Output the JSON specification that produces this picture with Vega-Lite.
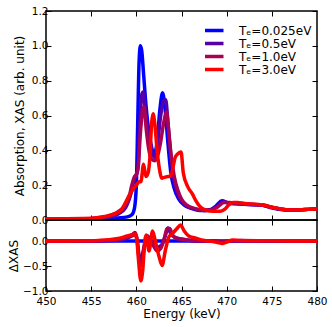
{
  "$schema": "https://vega.github.io/schema/vega-lite/v6.json",
  "padding": {"left": 6, "top": 5, "right": 10, "bottom": 3},
  "spacing": 0,
  "bounds": "flush",
  "config": {
    "font": "DejaVu Sans",
    "view": {"stroke": "#000", "strokeWidth": 1.5},
    "axis": {
      "domain": false, "grid": false, "labelFlush": false,
      "tickSize": -5, "tickColor": "#000", "tickWidth": 1,
      "labelPadding": 3, "labelFontSize": 10.5, "labelColor": "#000",
      "titleFontSize": 12, "titleFontWeight": "normal", "titleColor": "#000"
    },
    "legend": {
      "orient": "none", "legendX": 159, "legendY": 13,
      "symbolType": "M-2,0H2", "symbolStrokeWidth": 3.5, "symbolSize": 121,
      "labelFontSize": 12, "labelColor": "#000", "labelOffset": 19,
      "rowPadding": 0, "clipHeight": 13, "padding": 0, "title": null
    }
  },
  "datasets": {
    "top": [
      {"s": "Tₑ=0.025eV", "E": 450, "v": 0.005}, {"s": "Tₑ=0.025eV", "E": 453, "v": 0.005}, {"s": "Tₑ=0.025eV", "E": 455, "v": 0.006}, {"s": "Tₑ=0.025eV", "E": 456, "v": 0.007}, {"s": "Tₑ=0.025eV", "E": 457, "v": 0.009}, {"s": "Tₑ=0.025eV", "E": 458, "v": 0.012}, {"s": "Tₑ=0.025eV", "E": 459, "v": 0.018}, {"s": "Tₑ=0.025eV", "E": 459.5, "v": 0.03}, {"s": "Tₑ=0.025eV", "E": 459.8, "v": 0.07}, {"s": "Tₑ=0.025eV", "E": 460.0, "v": 0.2}, {"s": "Tₑ=0.025eV", "E": 460.15, "v": 0.55}, {"s": "Tₑ=0.025eV", "E": 460.3, "v": 0.9}, {"s": "Tₑ=0.025eV", "E": 460.45, "v": 1.0}, {"s": "Tₑ=0.025eV", "E": 460.6, "v": 0.97}, {"s": "Tₑ=0.025eV", "E": 460.8, "v": 0.84}, {"s": "Tₑ=0.025eV", "E": 461.1, "v": 0.64}, {"s": "Tₑ=0.025eV", "E": 461.5, "v": 0.47}, {"s": "Tₑ=0.025eV", "E": 462.0, "v": 0.38}, {"s": "Tₑ=0.025eV", "E": 462.3, "v": 0.45}, {"s": "Tₑ=0.025eV", "E": 462.6, "v": 0.63}, {"s": "Tₑ=0.025eV", "E": 462.9, "v": 0.73}, {"s": "Tₑ=0.025eV", "E": 463.2, "v": 0.63}, {"s": "Tₑ=0.025eV", "E": 463.5, "v": 0.44}, {"s": "Tₑ=0.025eV", "E": 463.8, "v": 0.28}, {"s": "Tₑ=0.025eV", "E": 464.2, "v": 0.18}, {"s": "Tₑ=0.025eV", "E": 464.7, "v": 0.12}, {"s": "Tₑ=0.025eV", "E": 465.3, "v": 0.085}, {"s": "Tₑ=0.025eV", "E": 466, "v": 0.068}, {"s": "Tₑ=0.025eV", "E": 467, "v": 0.055}, {"s": "Tₑ=0.025eV", "E": 468, "v": 0.056}, {"s": "Tₑ=0.025eV", "E": 468.8, "v": 0.08}, {"s": "Tₑ=0.025eV", "E": 469.5, "v": 0.11}, {"s": "Tₑ=0.025eV", "E": 470.2, "v": 0.096}, {"s": "Tₑ=0.025eV", "E": 471, "v": 0.093}, {"s": "Tₑ=0.025eV", "E": 472, "v": 0.09}, {"s": "Tₑ=0.025eV", "E": 473, "v": 0.088}, {"s": "Tₑ=0.025eV", "E": 474, "v": 0.084}, {"s": "Tₑ=0.025eV", "E": 475, "v": 0.07}, {"s": "Tₑ=0.025eV", "E": 476, "v": 0.06}, {"s": "Tₑ=0.025eV", "E": 477, "v": 0.057}, {"s": "Tₑ=0.025eV", "E": 478, "v": 0.058}, {"s": "Tₑ=0.025eV", "E": 479, "v": 0.061}, {"s": "Tₑ=0.025eV", "E": 480, "v": 0.065},

      {"s": "Tₑ=0.5eV", "E": 450, "v": 0.005}, {"s": "Tₑ=0.5eV", "E": 455, "v": 0.007}, {"s": "Tₑ=0.5eV", "E": 456, "v": 0.01}, {"s": "Tₑ=0.5eV", "E": 457, "v": 0.016}, {"s": "Tₑ=0.5eV", "E": 458, "v": 0.035}, {"s": "Tₑ=0.5eV", "E": 458.8, "v": 0.07}, {"s": "Tₑ=0.5eV", "E": 459.4, "v": 0.15}, {"s": "Tₑ=0.5eV", "E": 459.8, "v": 0.24}, {"s": "Tₑ=0.5eV", "E": 460.0, "v": 0.26}, {"s": "Tₑ=0.5eV", "E": 460.2, "v": 0.31}, {"s": "Tₑ=0.5eV", "E": 460.4, "v": 0.55}, {"s": "Tₑ=0.5eV", "E": 460.6, "v": 0.72}, {"s": "Tₑ=0.5eV", "E": 460.75, "v": 0.735}, {"s": "Tₑ=0.5eV", "E": 461.0, "v": 0.63}, {"s": "Tₑ=0.5eV", "E": 461.3, "v": 0.5}, {"s": "Tₑ=0.5eV", "E": 461.7, "v": 0.4}, {"s": "Tₑ=0.5eV", "E": 462.0, "v": 0.36}, {"s": "Tₑ=0.5eV", "E": 462.3, "v": 0.42}, {"s": "Tₑ=0.5eV", "E": 462.7, "v": 0.6}, {"s": "Tₑ=0.5eV", "E": 463.0, "v": 0.68}, {"s": "Tₑ=0.5eV", "E": 463.25, "v": 0.69}, {"s": "Tₑ=0.5eV", "E": 463.5, "v": 0.56}, {"s": "Tₑ=0.5eV", "E": 463.8, "v": 0.38}, {"s": "Tₑ=0.5eV", "E": 464.1, "v": 0.25}, {"s": "Tₑ=0.5eV", "E": 464.5, "v": 0.16}, {"s": "Tₑ=0.5eV", "E": 465.0, "v": 0.11}, {"s": "Tₑ=0.5eV", "E": 465.6, "v": 0.08}, {"s": "Tₑ=0.5eV", "E": 466.5, "v": 0.064}, {"s": "Tₑ=0.5eV", "E": 467.5, "v": 0.055}, {"s": "Tₑ=0.5eV", "E": 468.3, "v": 0.06}, {"s": "Tₑ=0.5eV", "E": 469, "v": 0.08}, {"s": "Tₑ=0.5eV", "E": 469.6, "v": 0.105}, {"s": "Tₑ=0.5eV", "E": 470.3, "v": 0.098}, {"s": "Tₑ=0.5eV", "E": 471, "v": 0.095}, {"s": "Tₑ=0.5eV", "E": 472, "v": 0.09}, {"s": "Tₑ=0.5eV", "E": 473, "v": 0.088}, {"s": "Tₑ=0.5eV", "E": 474, "v": 0.085}, {"s": "Tₑ=0.5eV", "E": 475, "v": 0.072}, {"s": "Tₑ=0.5eV", "E": 476, "v": 0.062}, {"s": "Tₑ=0.5eV", "E": 477, "v": 0.058}, {"s": "Tₑ=0.5eV", "E": 478, "v": 0.058}, {"s": "Tₑ=0.5eV", "E": 479, "v": 0.061}, {"s": "Tₑ=0.5eV", "E": 480, "v": 0.065},

      {"s": "Tₑ=1.0eV", "E": 450, "v": 0.005}, {"s": "Tₑ=1.0eV", "E": 455, "v": 0.009}, {"s": "Tₑ=1.0eV", "E": 456, "v": 0.014}, {"s": "Tₑ=1.0eV", "E": 457, "v": 0.024}, {"s": "Tₑ=1.0eV", "E": 458, "v": 0.048}, {"s": "Tₑ=1.0eV", "E": 458.6, "v": 0.075}, {"s": "Tₑ=1.0eV", "E": 459.2, "v": 0.13}, {"s": "Tₑ=1.0eV", "E": 459.5, "v": 0.2}, {"s": "Tₑ=1.0eV", "E": 459.8, "v": 0.25}, {"s": "Tₑ=1.0eV", "E": 460.0, "v": 0.26}, {"s": "Tₑ=1.0eV", "E": 460.2, "v": 0.3}, {"s": "Tₑ=1.0eV", "E": 460.45, "v": 0.5}, {"s": "Tₑ=1.0eV", "E": 460.7, "v": 0.63}, {"s": "Tₑ=1.0eV", "E": 460.85, "v": 0.65}, {"s": "Tₑ=1.0eV", "E": 461.1, "v": 0.52}, {"s": "Tₑ=1.0eV", "E": 461.4, "v": 0.4}, {"s": "Tₑ=1.0eV", "E": 461.7, "v": 0.35}, {"s": "Tₑ=1.0eV", "E": 462.0, "v": 0.34}, {"s": "Tₑ=1.0eV", "E": 462.3, "v": 0.36}, {"s": "Tₑ=1.0eV", "E": 462.7, "v": 0.45}, {"s": "Tₑ=1.0eV", "E": 463.0, "v": 0.55}, {"s": "Tₑ=1.0eV", "E": 463.35, "v": 0.62}, {"s": "Tₑ=1.0eV", "E": 463.6, "v": 0.5}, {"s": "Tₑ=1.0eV", "E": 463.9, "v": 0.35}, {"s": "Tₑ=1.0eV", "E": 464.2, "v": 0.25}, {"s": "Tₑ=1.0eV", "E": 464.6, "v": 0.17}, {"s": "Tₑ=1.0eV", "E": 465.0, "v": 0.12}, {"s": "Tₑ=1.0eV", "E": 465.6, "v": 0.085}, {"s": "Tₑ=1.0eV", "E": 466.5, "v": 0.065}, {"s": "Tₑ=1.0eV", "E": 467.5, "v": 0.055}, {"s": "Tₑ=1.0eV", "E": 468.3, "v": 0.058}, {"s": "Tₑ=1.0eV", "E": 469, "v": 0.075}, {"s": "Tₑ=1.0eV", "E": 469.7, "v": 0.1}, {"s": "Tₑ=1.0eV", "E": 470.3, "v": 0.1}, {"s": "Tₑ=1.0eV", "E": 471, "v": 0.097}, {"s": "Tₑ=1.0eV", "E": 472, "v": 0.092}, {"s": "Tₑ=1.0eV", "E": 473, "v": 0.09}, {"s": "Tₑ=1.0eV", "E": 474, "v": 0.086}, {"s": "Tₑ=1.0eV", "E": 475, "v": 0.073}, {"s": "Tₑ=1.0eV", "E": 476, "v": 0.063}, {"s": "Tₑ=1.0eV", "E": 477, "v": 0.058}, {"s": "Tₑ=1.0eV", "E": 478, "v": 0.058}, {"s": "Tₑ=1.0eV", "E": 479, "v": 0.061}, {"s": "Tₑ=1.0eV", "E": 480, "v": 0.065},

      {"s": "Tₑ=3.0eV", "E": 450, "v": 0.006}, {"s": "Tₑ=3.0eV", "E": 454, "v": 0.008}, {"s": "Tₑ=3.0eV", "E": 455.5, "v": 0.012}, {"s": "Tₑ=3.0eV", "E": 456.5, "v": 0.02}, {"s": "Tₑ=3.0eV", "E": 457.3, "v": 0.03}, {"s": "Tₑ=3.0eV", "E": 458.2, "v": 0.05}, {"s": "Tₑ=3.0eV", "E": 458.9, "v": 0.11}, {"s": "Tₑ=3.0eV", "E": 459.3, "v": 0.15}, {"s": "Tₑ=3.0eV", "E": 459.7, "v": 0.18}, {"s": "Tₑ=3.0eV", "E": 460.0, "v": 0.2}, {"s": "Tₑ=3.0eV", "E": 460.3, "v": 0.22}, {"s": "Tₑ=3.0eV", "E": 460.5, "v": 0.22}, {"s": "Tₑ=3.0eV", "E": 460.8, "v": 0.32}, {"s": "Tₑ=3.0eV", "E": 461.05, "v": 0.25}, {"s": "Tₑ=3.0eV", "E": 461.3, "v": 0.27}, {"s": "Tₑ=3.0eV", "E": 461.5, "v": 0.36}, {"s": "Tₑ=3.0eV", "E": 461.7, "v": 0.56}, {"s": "Tₑ=3.0eV", "E": 461.85, "v": 0.61}, {"s": "Tₑ=3.0eV", "E": 462.05, "v": 0.55}, {"s": "Tₑ=3.0eV", "E": 462.3, "v": 0.4}, {"s": "Tₑ=3.0eV", "E": 462.6, "v": 0.28}, {"s": "Tₑ=3.0eV", "E": 462.8, "v": 0.24}, {"s": "Tₑ=3.0eV", "E": 463.1, "v": 0.245}, {"s": "Tₑ=3.0eV", "E": 463.5, "v": 0.25}, {"s": "Tₑ=3.0eV", "E": 463.8, "v": 0.25}, {"s": "Tₑ=3.0eV", "E": 464.05, "v": 0.3}, {"s": "Tₑ=3.0eV", "E": 464.3, "v": 0.36}, {"s": "Tₑ=3.0eV", "E": 464.6, "v": 0.38}, {"s": "Tₑ=3.0eV", "E": 464.95, "v": 0.39}, {"s": "Tₑ=3.0eV", "E": 465.2, "v": 0.27}, {"s": "Tₑ=3.0eV", "E": 465.7, "v": 0.19}, {"s": "Tₑ=3.0eV", "E": 466.2, "v": 0.15}, {"s": "Tₑ=3.0eV", "E": 466.6, "v": 0.11}, {"s": "Tₑ=3.0eV", "E": 467.0, "v": 0.08}, {"s": "Tₑ=3.0eV", "E": 467.7, "v": 0.057}, {"s": "Tₑ=3.0eV", "E": 468.5, "v": 0.05}, {"s": "Tₑ=3.0eV", "E": 469.3, "v": 0.05}, {"s": "Tₑ=3.0eV", "E": 469.8, "v": 0.062}, {"s": "Tₑ=3.0eV", "E": 470.2, "v": 0.085}, {"s": "Tₑ=3.0eV", "E": 470.7, "v": 0.1}, {"s": "Tₑ=3.0eV", "E": 471.2, "v": 0.1}, {"s": "Tₑ=3.0eV", "E": 472, "v": 0.095}, {"s": "Tₑ=3.0eV", "E": 473, "v": 0.09}, {"s": "Tₑ=3.0eV", "E": 474, "v": 0.087}, {"s": "Tₑ=3.0eV", "E": 475, "v": 0.073}, {"s": "Tₑ=3.0eV", "E": 476, "v": 0.063}, {"s": "Tₑ=3.0eV", "E": 477, "v": 0.058}, {"s": "Tₑ=3.0eV", "E": 478, "v": 0.058}, {"s": "Tₑ=3.0eV", "E": 479, "v": 0.061}, {"s": "Tₑ=3.0eV", "E": 480, "v": 0.065}
    ],
    "delta": [
      {"s": "Tₑ=0.025eV", "E": 450, "d": 0}, {"s": "Tₑ=0.025eV", "E": 465, "d": 0}, {"s": "Tₑ=0.025eV", "E": 480, "d": 0},

      {"s": "Tₑ=0.5eV", "E": 450, "d": 0}, {"s": "Tₑ=0.5eV", "E": 456, "d": 0.003}, {"s": "Tₑ=0.5eV", "E": 457, "d": 0.008}, {"s": "Tₑ=0.5eV", "E": 458, "d": 0.02}, {"s": "Tₑ=0.5eV", "E": 459, "d": 0.06}, {"s": "Tₑ=0.5eV", "E": 459.5, "d": 0.1}, {"s": "Tₑ=0.5eV", "E": 459.85, "d": 0.14}, {"s": "Tₑ=0.5eV", "E": 460.1, "d": 0.0}, {"s": "Tₑ=0.5eV", "E": 460.3, "d": -0.3}, {"s": "Tₑ=0.5eV", "E": 460.5, "d": -0.42}, {"s": "Tₑ=0.5eV", "E": 460.7, "d": -0.25}, {"s": "Tₑ=0.5eV", "E": 461.0, "d": 0.0}, {"s": "Tₑ=0.5eV", "E": 461.25, "d": 0.1}, {"s": "Tₑ=0.5eV", "E": 461.6, "d": -0.02}, {"s": "Tₑ=0.5eV", "E": 462.0, "d": -0.08}, {"s": "Tₑ=0.5eV", "E": 462.4, "d": -0.12}, {"s": "Tₑ=0.5eV", "E": 462.8, "d": -0.08}, {"s": "Tₑ=0.5eV", "E": 463.2, "d": 0.1}, {"s": "Tₑ=0.5eV", "E": 463.5, "d": 0.26}, {"s": "Tₑ=0.5eV", "E": 463.8, "d": 0.15}, {"s": "Tₑ=0.5eV", "E": 464.2, "d": 0.08}, {"s": "Tₑ=0.5eV", "E": 465, "d": 0.04}, {"s": "Tₑ=0.5eV", "E": 466, "d": 0.01}, {"s": "Tₑ=0.5eV", "E": 467, "d": 0.0}, {"s": "Tₑ=0.5eV", "E": 468.5, "d": 0.0}, {"s": "Tₑ=0.5eV", "E": 469.5, "d": -0.01}, {"s": "Tₑ=0.5eV", "E": 470.5, "d": 0.005}, {"s": "Tₑ=0.5eV", "E": 471.5, "d": 0.005}, {"s": "Tₑ=0.5eV", "E": 475, "d": 0.002}, {"s": "Tₑ=0.5eV", "E": 480, "d": 0},

      {"s": "Tₑ=1.0eV", "E": 450, "d": 0}, {"s": "Tₑ=1.0eV", "E": 456, "d": 0.006}, {"s": "Tₑ=1.0eV", "E": 457, "d": 0.013}, {"s": "Tₑ=1.0eV", "E": 458, "d": 0.03}, {"s": "Tₑ=1.0eV", "E": 459, "d": 0.08}, {"s": "Tₑ=1.0eV", "E": 459.5, "d": 0.12}, {"s": "Tₑ=1.0eV", "E": 459.85, "d": 0.17}, {"s": "Tₑ=1.0eV", "E": 460.1, "d": 0.02}, {"s": "Tₑ=1.0eV", "E": 460.3, "d": -0.35}, {"s": "Tₑ=1.0eV", "E": 460.5, "d": -0.5}, {"s": "Tₑ=1.0eV", "E": 460.75, "d": -0.3}, {"s": "Tₑ=1.0eV", "E": 461.0, "d": 0.0}, {"s": "Tₑ=1.0eV", "E": 461.2, "d": 0.1}, {"s": "Tₑ=1.0eV", "E": 461.5, "d": 0.0}, {"s": "Tₑ=1.0eV", "E": 461.9, "d": -0.1}, {"s": "Tₑ=1.0eV", "E": 462.3, "d": -0.2}, {"s": "Tₑ=1.0eV", "E": 462.7, "d": -0.15}, {"s": "Tₑ=1.0eV", "E": 463.1, "d": 0.05}, {"s": "Tₑ=1.0eV", "E": 463.4, "d": 0.25}, {"s": "Tₑ=1.0eV", "E": 463.7, "d": 0.25}, {"s": "Tₑ=1.0eV", "E": 464.0, "d": 0.12}, {"s": "Tₑ=1.0eV", "E": 464.5, "d": 0.05}, {"s": "Tₑ=1.0eV", "E": 465.2, "d": 0.03}, {"s": "Tₑ=1.0eV", "E": 466, "d": 0.01}, {"s": "Tₑ=1.0eV", "E": 467, "d": 0.003}, {"s": "Tₑ=1.0eV", "E": 468.5, "d": 0.0}, {"s": "Tₑ=1.0eV", "E": 469.5, "d": -0.02}, {"s": "Tₑ=1.0eV", "E": 470.5, "d": 0.0}, {"s": "Tₑ=1.0eV", "E": 471.5, "d": 0.01}, {"s": "Tₑ=1.0eV", "E": 475, "d": 0.003}, {"s": "Tₑ=1.0eV", "E": 480, "d": 0},

      {"s": "Tₑ=3.0eV", "E": 450, "d": 0}, {"s": "Tₑ=3.0eV", "E": 455, "d": 0.005}, {"s": "Tₑ=3.0eV", "E": 456, "d": 0.013}, {"s": "Tₑ=3.0eV", "E": 457, "d": 0.025}, {"s": "Tₑ=3.0eV", "E": 458, "d": 0.05}, {"s": "Tₑ=3.0eV", "E": 459, "d": 0.1}, {"s": "Tₑ=3.0eV", "E": 459.6, "d": 0.13}, {"s": "Tₑ=3.0eV", "E": 459.85, "d": 0.14}, {"s": "Tₑ=3.0eV", "E": 460.05, "d": 0.02}, {"s": "Tₑ=3.0eV", "E": 460.25, "d": -0.4}, {"s": "Tₑ=3.0eV", "E": 460.5, "d": -0.8}, {"s": "Tₑ=3.0eV", "E": 460.7, "d": -0.6}, {"s": "Tₑ=3.0eV", "E": 460.95, "d": 0.02}, {"s": "Tₑ=3.0eV", "E": 461.1, "d": 0.12}, {"s": "Tₑ=3.0eV", "E": 461.4, "d": -0.2}, {"s": "Tₑ=3.0eV", "E": 461.8, "d": 0.2}, {"s": "Tₑ=3.0eV", "E": 462.1, "d": 0.0}, {"s": "Tₑ=3.0eV", "E": 462.5, "d": -0.3}, {"s": "Tₑ=3.0eV", "E": 462.85, "d": -0.49}, {"s": "Tₑ=3.0eV", "E": 463.2, "d": -0.2}, {"s": "Tₑ=3.0eV", "E": 463.6, "d": 0.08}, {"s": "Tₑ=3.0eV", "E": 464.0, "d": 0.15}, {"s": "Tₑ=3.0eV", "E": 464.5, "d": 0.25}, {"s": "Tₑ=3.0eV", "E": 464.9, "d": 0.32}, {"s": "Tₑ=3.0eV", "E": 465.3, "d": 0.2}, {"s": "Tₑ=3.0eV", "E": 465.8, "d": 0.1}, {"s": "Tₑ=3.0eV", "E": 466.5, "d": 0.06}, {"s": "Tₑ=3.0eV", "E": 467.2, "d": 0.02}, {"s": "Tₑ=3.0eV", "E": 468, "d": 0.0}, {"s": "Tₑ=3.0eV", "E": 469, "d": -0.03}, {"s": "Tₑ=3.0eV", "E": 469.5, "d": -0.05}, {"s": "Tₑ=3.0eV", "E": 470, "d": -0.02}, {"s": "Tₑ=3.0eV", "E": 470.7, "d": 0.02}, {"s": "Tₑ=3.0eV", "E": 471.5, "d": 0.01}, {"s": "Tₑ=3.0eV", "E": 473, "d": 0.005}, {"s": "Tₑ=3.0eV", "E": 475, "d": 0.003}, {"s": "Tₑ=3.0eV", "E": 480, "d": 0}
    ]
  },
  "resolve": {"legend": {"color": "independent"}},
  "vconcat": [
    {
      "width": 271, "height": 209,
      "data": {"name": "top"},
      "layer": [
        {
          "mark": {"type": "line", "strokeWidth": 3.5, "interpolate": "monotone", "clip": true},
          "encoding": {
            "x": {"field": "E", "type": "quantitative", "scale": {"domain": [450, 480], "nice": false},
                  "axis": {"orient": "bottom", "values": [455, 460, 465, 470, 475], "labels": false, "title": null, "minExtent": 0, "maxExtent": 0}},
            "y": {"field": "v", "type": "quantitative", "scale": {"domain": [0, 1.2], "nice": false},
                  "axis": {"values": [0, 0.2, 0.4, 0.6, 0.8, 1.0, 1.2], "format": ".1f", "title": "Absorption, XAS (arb. unit)", "titlePadding": 5}},
            "color": {"field": "s", "type": "nominal",
                      "scale": {"domain": ["Tₑ=0.025eV", "Tₑ=0.5eV", "Tₑ=1.0eV", "Tₑ=3.0eV"], "range": ["#0000ff", "#5500aa", "#aa0055", "#ff0000"]},
                      "legend": {"title": null}}
          }
        },
        {
          "mark": {"type": "point", "opacity": 0},
          "encoding": {
            "x": {"field": "E", "type": "quantitative", "scale": {"domain": [450, 480], "nice": false},
                  "axis": {"orient": "top", "values": [455, 460, 465, 470, 475], "labels": false, "title": null, "minExtent": 0, "maxExtent": 0}},
            "y": {"field": "v", "type": "quantitative", "scale": {"domain": [0, 1.2], "nice": false},
                  "axis": {"orient": "right", "values": [0, 0.2, 0.4, 0.6, 0.8, 1.0, 1.2], "labels": false, "title": null, "minExtent": 0, "maxExtent": 0}}
          }
        }
      ],
      "resolve": {"axis": {"x": "independent", "y": "independent"}}
    },
    {
      "width": 271, "height": 71,
      "data": {"name": "delta"},
      "layer": [
        {
          "mark": {"type": "line", "strokeWidth": 3.5, "interpolate": "monotone", "clip": true},
          "encoding": {
            "x": {"field": "E", "type": "quantitative", "scale": {"domain": [450, 480], "nice": false},
                  "axis": {"orient": "bottom", "values": [450, 455, 460, 465, 470, 475, 480], "format": "d", "title": "Energy (keV)", "labelPadding": 10, "titlePadding": 2}},
            "y": {"field": "d", "type": "quantitative", "scale": {"domain": [-1, 0.42], "nice": false},
                  "axis": {"values": [-1, -0.5, 0], "format": ".1f", "title": "ΔXAS", "titlePadding": 2}},
            "color": {"field": "s", "type": "nominal",
                      "scale": {"domain": ["Tₑ=0.025eV", "Tₑ=0.5eV", "Tₑ=1.0eV", "Tₑ=3.0eV"], "range": ["#0000ff", "#5500aa", "#aa0055", "#ff0000"]},
                      "legend": null}
          }
        },
        {
          "mark": {"type": "point", "opacity": 0},
          "encoding": {
            "x": {"field": "E", "type": "quantitative", "scale": {"domain": [450, 480], "nice": false},
                  "axis": {"orient": "top", "values": [455, 460, 465, 470, 475], "labels": false, "title": null, "minExtent": 0, "maxExtent": 0}},
            "y": {"field": "d", "type": "quantitative", "scale": {"domain": [-1, 0.42], "nice": false},
                  "axis": {"orient": "right", "values": [-1, -0.5, 0], "labels": false, "title": null, "minExtent": 0, "maxExtent": 0}}
          }
        }
      ],
      "resolve": {"axis": {"x": "independent", "y": "independent"}}
    }
  ]
}
